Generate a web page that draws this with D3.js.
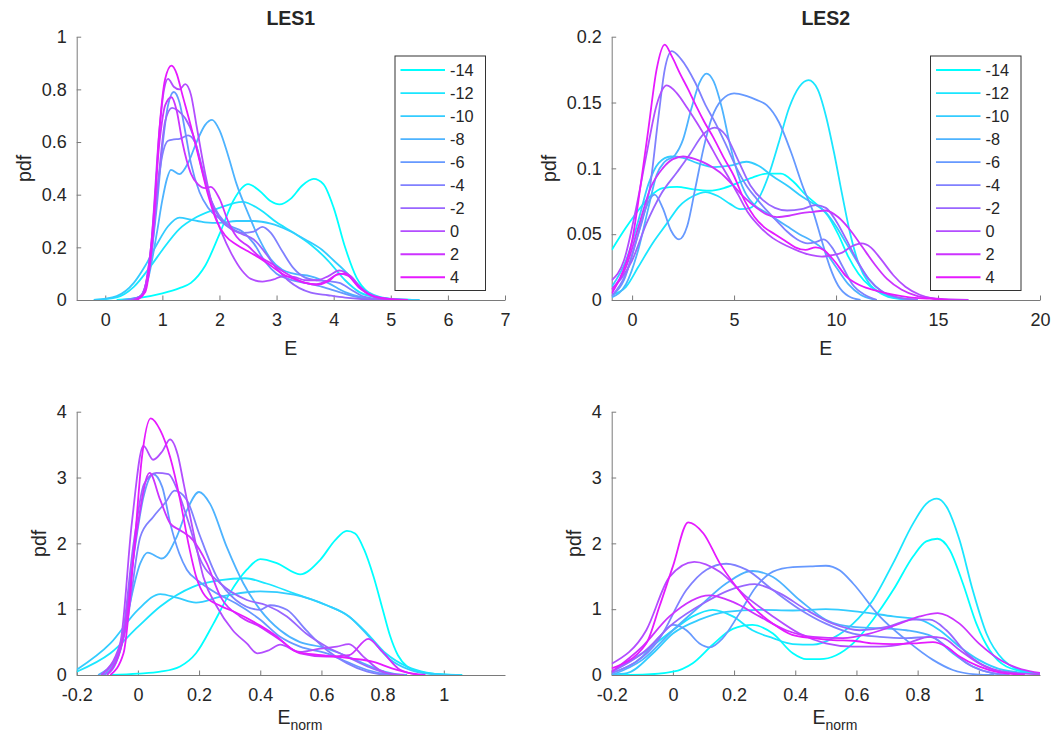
<!DOCTYPE html>
<html>
<head>
<meta charset="utf-8">
<script src="https://cdn.jsdelivr.net/npm/d3@7"></script>
<style>
    body { margin: 0; background: #fff; }
    #chart-area { width: 1053px; height: 747px; }
    text { font-family: "Liberation Sans", Arial, Helvetica, sans-serif; fill: #262626; }
    .axis path, .axis line { stroke: #7a7a7a; stroke-width: 1; }
    .axis text { font-size: 18px; fill: #262626; }
</style>
</head>
<body>
<div id="chart-area"></div>
<script>
/* * * * * * * * * * * * * *
*     LES pdf panels       *
* * * * * * * * * * * * * */

// legend entries, one curve per level in every panel
const levels = [-14, -12, -10, -8, -6, -4, -2, 0, 2, 4];

// LES1, pdf of E  ([E, pdf] points, same order as levels)
const les1E = [
    [[0.2,0],[0.6,0.008],[1.0,0.025],[1.3,0.045],[1.5,0.065],[1.75,0.13],[2.0,0.25],[2.25,0.38],[2.5,0.44],[2.7,0.415],[2.9,0.375],[3.05,0.363],[3.25,0.385],[3.45,0.435],[3.65,0.46],[3.82,0.44],[4.0,0.35],[4.2,0.2],[4.4,0.085],[4.6,0.03],[4.8,0.01],[5.1,0.002],[5.5,0]],
    [[-0.2,0],[0.2,0.01],[0.5,0.05],[0.8,0.13],[1.0,0.19],[1.3,0.27],[1.6,0.315],[2.0,0.35],[2.4,0.373],[2.7,0.345],[3.0,0.295],[3.3,0.255],[3.6,0.21],[3.9,0.15],[4.2,0.075],[4.45,0.03],[4.75,0.01],[5.1,0.002],[5.5,0]],
    [[-0.2,0],[0.2,0.015],[0.5,0.065],[0.7,0.13],[0.9,0.21],[1.1,0.28],[1.3,0.313],[1.5,0.305],[1.75,0.295],[2.0,0.293],[2.3,0.3],[2.6,0.3],[2.9,0.29],[3.2,0.265],[3.5,0.23],[3.8,0.19],[4.0,0.15],[4.2,0.11],[4.4,0.065],[4.6,0.03],[4.8,0.012],[5.1,0.003],[5.5,0]],
    [[0.3,0],[0.6,0.012],[0.75,0.08],[0.9,0.25],[1.0,0.38],[1.08,0.46],[1.15,0.494],[1.3,0.478],[1.45,0.52],[1.6,0.6],[1.75,0.665],[1.87,0.684],[2.0,0.645],[2.15,0.55],[2.3,0.44],[2.5,0.33],[2.7,0.23],[2.9,0.155],[3.1,0.115],[3.3,0.1],[3.6,0.09],[3.9,0.065],[4.2,0.03],[4.5,0.01],[4.8,0.002],[5.0,0]],
    [[0.35,0],[0.6,0.012],[0.75,0.09],[0.9,0.35],[1.0,0.58],[1.1,0.74],[1.2,0.79],[1.3,0.75],[1.4,0.64],[1.5,0.52],[1.65,0.41],[1.8,0.35],[2.0,0.31],[2.2,0.28],[2.4,0.26],[2.6,0.215],[2.8,0.145],[3.0,0.1],[3.2,0.08],[3.5,0.065],[3.8,0.05],[4.1,0.03],[4.4,0.012],[4.7,0.003],[5.0,0]],
    [[0.4,0],[0.6,0.012],[0.75,0.1],[0.9,0.4],[1.0,0.55],[1.1,0.605],[1.2,0.61],[1.3,0.612],[1.45,0.625],[1.57,0.6],[1.7,0.49],[1.85,0.38],[2.0,0.32],[2.2,0.275],[2.4,0.255],[2.6,0.26],[2.75,0.278],[2.9,0.255],[3.1,0.185],[3.3,0.12],[3.5,0.085],[3.7,0.075],[3.9,0.072],[4.1,0.065],[4.3,0.04],[4.5,0.015],[4.8,0.003],[5.0,0]],
    [[0.45,0],[0.65,0.02],[0.8,0.16],[0.95,0.5],[1.05,0.68],[1.17,0.73],[1.27,0.72],[1.4,0.69],[1.55,0.62],[1.7,0.5],[1.85,0.38],[2.0,0.31],[2.2,0.27],[2.4,0.25],[2.6,0.23],[2.8,0.18],[3.0,0.12],[3.2,0.075],[3.4,0.045],[3.6,0.028],[3.9,0.018],[4.2,0.009],[4.6,0.002],[5.0,0]],
    [[0.5,0],[0.65,0.02],[0.8,0.2],[0.95,0.65],[1.03,0.8],[1.1,0.84],[1.2,0.81],[1.3,0.8],[1.4,0.82],[1.5,0.78],[1.6,0.66],[1.75,0.48],[1.9,0.34],[2.05,0.25],[2.2,0.18],[2.4,0.11],[2.55,0.08],[2.75,0.07],[2.95,0.078],[3.1,0.09],[3.3,0.088],[3.5,0.075],[3.7,0.075],[3.9,0.09],[4.1,0.112],[4.3,0.09],[4.5,0.04],[4.7,0.012],[5.0,0]],
    [[0.5,0],[0.65,0.02],[0.8,0.2],[0.95,0.6],[1.05,0.74],[1.16,0.77],[1.25,0.72],[1.35,0.6],[1.5,0.48],[1.62,0.44],[1.75,0.425],[1.85,0.43],[2.0,0.385],[2.15,0.3],[2.3,0.24],[2.5,0.205],[2.7,0.165],[2.9,0.14],[3.1,0.11],[3.3,0.085],[3.5,0.065],[3.7,0.06],[3.9,0.075],[4.1,0.1],[4.25,0.092],[4.45,0.045],[4.7,0.014],[5.0,0.003],[5.3,0]],
    [[0.55,0],[0.7,0.03],[0.85,0.3],[0.95,0.65],[1.05,0.84],[1.16,0.89],[1.25,0.86],[1.35,0.78],[1.5,0.66],[1.65,0.53],[1.8,0.4],[1.95,0.3],[2.1,0.245],[2.3,0.21],[2.5,0.185],[2.7,0.16],[2.9,0.13],[3.1,0.1],[3.3,0.08],[3.5,0.065],[3.7,0.058],[3.9,0.07],[4.05,0.095],[4.2,0.1],[4.4,0.06],[4.6,0.025],[4.9,0.006],[5.3,0]]
];

// LES2, pdf of E
const les2E = [
    [[-1,0.038],[-0.3,0.055],[0.3,0.068],[0.9,0.079],[1.5,0.085],[2.2,0.086],[3.0,0.084],[3.8,0.083],[4.5,0.085],[5.2,0.089],[5.9,0.093],[6.6,0.096],[7.3,0.096],[7.9,0.09],[8.5,0.08],[9.1,0.072],[9.6,0.064],[10.1,0.05],[10.6,0.033],[11.1,0.02],[11.7,0.01],[12.4,0.004],[13.2,0.001],[14,0]],
    [[-1,0.004],[-0.3,0.01],[0.3,0.025],[1.0,0.043],[1.7,0.058],[2.3,0.071],[3.0,0.079],[3.6,0.082],[4.2,0.079],[4.8,0.073],[5.3,0.069],[5.8,0.07],[6.2,0.077],[6.7,0.095],[7.2,0.12],[7.7,0.146],[8.2,0.162],[8.65,0.167],[9.1,0.16],[9.5,0.14],[9.9,0.112],[10.3,0.08],[10.7,0.05],[11.1,0.028],[11.6,0.013],[12.2,0.005],[13,0.001],[14,0]],
    [[-1,0.01],[-0.3,0.03],[0.3,0.06],[0.8,0.088],[1.3,0.104],[1.9,0.109],[2.5,0.108],[3.2,0.104],[4.0,0.101],[4.8,0.102],[5.6,0.105],[6.2,0.102],[6.9,0.094],[7.6,0.087],[8.2,0.08],[8.8,0.074],[9.4,0.068],[10.0,0.056],[10.5,0.043],[11.0,0.03],[11.6,0.016],[12.2,0.007],[13,0.002],[14,0]],
    [[-1,0.002],[-0.3,0.012],[0.3,0.038],[0.8,0.07],[1.2,0.095],[1.6,0.105],[2.1,0.11],[2.5,0.122],[2.9,0.145],[3.3,0.165],[3.65,0.172],[4.0,0.166],[4.4,0.146],[4.8,0.118],[5.2,0.095],[5.6,0.08],[6.0,0.072],[6.5,0.067],[7.0,0.062],[7.6,0.056],[8.2,0.05],[8.8,0.045],[9.4,0.038],[10,0.025],[10.6,0.012],[11.2,0.004],[12,0]],
    [[-1,0.003],[-0.4,0.015],[0.2,0.045],[0.7,0.071],[1.1,0.08],[1.5,0.07],[1.9,0.053],[2.3,0.046],[2.7,0.056],[3.1,0.085],[3.5,0.115],[3.9,0.138],[4.4,0.152],[5.0,0.157],[5.6,0.155],[6.1,0.152],[6.6,0.148],[7.2,0.135],[7.8,0.112],[8.4,0.085],[8.9,0.066],[9.3,0.045],[9.7,0.025],[10.1,0.011],[10.6,0.003],[11.2,0]],
    [[-1,0.003],[-0.3,0.02],[0.3,0.05],[0.87,0.085],[1.3,0.14],[1.6,0.175],[1.95,0.189],[2.4,0.183],[3.1,0.165],[3.6,0.148],[4.1,0.134],[4.6,0.118],[5.1,0.101],[5.6,0.087],[6.1,0.077],[6.6,0.068],[7.1,0.06],[7.6,0.052],[8.1,0.046],[8.6,0.043],[9.0,0.044],[9.4,0.046],[9.8,0.04],[10.3,0.026],[10.8,0.012],[11.4,0.004],[12,0]],
    [[-1,0.008],[0,0.03],[0.7,0.058],[1.4,0.08],[2.2,0.097],[2.8,0.11],[3.5,0.126],[4.05,0.131],[4.6,0.125],[5.2,0.106],[5.8,0.087],[6.4,0.076],[7.0,0.07],[7.6,0.068],[8.3,0.069],[9.0,0.072],[9.5,0.07],[10.0,0.06],[10.5,0.046],[11.0,0.031],[11.6,0.016],[12.3,0.006],[13,0.002],[14,0]],
    [[-1,0.015],[-0.4,0.03],[0.2,0.07],[0.7,0.11],[1.2,0.148],[1.7,0.163],[2.2,0.157],[2.7,0.146],[3.2,0.134],[3.7,0.121],[4.2,0.107],[4.7,0.094],[5.2,0.08],[5.7,0.066],[6.3,0.055],[6.9,0.047],[7.6,0.041],[8.2,0.037],[8.8,0.034],[9.3,0.033],[9.8,0.034],[10.3,0.036],[10.8,0.041],[11.25,0.043],[11.7,0.04],[12.2,0.031],[12.8,0.019],[13.4,0.01],[14.1,0.004],[14.8,0.001],[15.5,0]],
    [[-1,0.008],[-0.3,0.025],[0.3,0.055],[0.9,0.085],[1.5,0.1],[2.0,0.107],[2.5,0.109],[3.1,0.107],[3.7,0.103],[4.3,0.097],[4.9,0.088],[5.5,0.078],[6.1,0.07],[6.6,0.065],[7.1,0.063],[7.7,0.064],[8.3,0.066],[8.9,0.067],[9.5,0.068],[10.1,0.063],[10.7,0.053],[11.3,0.04],[11.9,0.027],[12.5,0.016],[13.2,0.008],[14,0.003],[15,0.001],[16.5,0]],
    [[-1,0.005],[-0.5,0.02],[0,0.045],[0.38,0.083],[0.8,0.13],[1.2,0.175],[1.6,0.194],[1.95,0.185],[2.35,0.172],[2.75,0.16],[3.15,0.147],[3.55,0.135],[4.0,0.123],[4.5,0.108],[5.0,0.094],[5.5,0.076],[6.0,0.063],[6.5,0.055],[7.0,0.05],[7.5,0.045],[8.0,0.04],[8.5,0.038],[9.0,0.04],[9.4,0.038],[9.9,0.03],[10.5,0.018],[11.2,0.011],[12,0.007],[12.8,0.004],[13.6,0.002],[14.6,0.001],[15.5,0]]
];

// LES1, pdf of E_norm
const les1N = [
    [[-0.09,0],[0.0,0.02],[0.073,0.05],[0.138,0.13],[0.19,0.33],[0.247,0.78],[0.3,1.24],[0.356,1.6],[0.4,1.76],[0.454,1.7],[0.53,1.53],[0.596,1.75],[0.645,2.05],[0.683,2.19],[0.71,2.15],[0.74,1.9],[0.77,1.5],[0.8,1.0],[0.824,0.6],[0.85,0.3],[0.88,0.13],[0.93,0.04],[1.0,0.01],[1.06,0]],
    [[-0.2,0.05],[-0.09,0.33],[0,0.73],[0.073,1.04],[0.18,1.34],[0.27,1.44],[0.35,1.47],[0.42,1.39],[0.51,1.24],[0.617,1.06],[0.69,0.89],[0.75,0.63],[0.81,0.33],[0.88,0.127],[0.944,0.035],[1.0,0.005],[1.06,0]],
    [[-0.2,0.08],[-0.09,0.48],[0,0.99],[0.073,1.23],[0.13,1.17],[0.19,1.1],[0.27,1.19],[0.4,1.27],[0.51,1.22],[0.617,1.06],[0.69,0.89],[0.76,0.56],[0.82,0.25],[0.89,0.076],[0.965,0.012],[1.05,0]],
    [[-0.13,0],[-0.07,0.28],[-0.036,0.89],[0.008,1.7],[0.032,1.86],[0.078,1.77],[0.127,2.1],[0.16,2.5],[0.2,2.78],[0.236,2.6],[0.29,1.95],[0.345,1.39],[0.4,0.99],[0.465,0.68],[0.53,0.5],[0.596,0.43],[0.66,0.33],[0.726,0.2],[0.79,0.076],[0.835,0.02],[0.88,0]],
    [[-0.11,0],[-0.058,0.38],[-0.014,1.8],[0.018,2.7],[0.05,3.05],[0.08,2.85],[0.106,2.3],[0.135,1.85],[0.16,1.6],[0.2,1.42],[0.258,1.24],[0.32,1.09],[0.4,0.84],[0.465,0.58],[0.53,0.43],[0.617,0.33],[0.683,0.2],[0.75,0.076],[0.81,0.015],[0.86,0]],
    [[-0.12,0],[-0.09,0.05],[-0.036,0.78],[0.008,2.1],[0.05,2.4],[0.09,2.62],[0.12,2.8],[0.16,2.66],[0.2,2.15],[0.258,1.49],[0.32,1.14],[0.4,0.99],[0.432,1.06],[0.487,0.99],[0.55,0.68],[0.617,0.38],[0.683,0.18],[0.75,0.05],[0.81,0]],
    [[-0.12,0],[-0.058,0.4],[-0.014,2.0],[0.02,2.9],[0.06,3.07],[0.1,3.05],[0.13,2.8],[0.16,2.4],[0.2,1.8],[0.27,1.39],[0.356,1.14],[0.42,1.06],[0.487,0.89],[0.55,0.63],[0.617,0.43],[0.683,0.28],[0.75,0.13],[0.81,0.03],[0.86,0]],
    [[-0.12,0],[-0.058,0.48],[-0.02,2.3],[0.018,3.48],[0.05,3.27],[0.08,3.4],[0.105,3.58],[0.13,3.35],[0.15,2.9],[0.18,2.2],[0.214,1.49],[0.258,1.04],[0.31,0.68],[0.356,0.48],[0.39,0.33],[0.43,0.38],[0.465,0.46],[0.53,0.35],[0.596,0.4],[0.65,0.43],[0.69,0.47],[0.737,0.28],[0.79,0.076],[0.835,0.01],[0.87,0]],
    [[-0.1,0],[-0.047,0.58],[-0.003,2.2],[0.038,3.07],[0.073,2.66],[0.106,2.3],[0.138,2.2],[0.18,2.05],[0.225,1.7],[0.27,1.19],[0.334,0.89],[0.4,0.73],[0.465,0.53],[0.53,0.33],[0.617,0.28],[0.69,0.3],[0.753,0.55],[0.8,0.35],[0.857,0.08],[0.92,0]],
    [[-0.09,0],[-0.047,0.33],[-0.014,1.8],[0.013,3.3],[0.042,3.9],[0.073,3.72],[0.106,3.3],[0.138,2.66],[0.165,2.0],[0.19,1.5],[0.22,1.2],[0.27,1.05],[0.32,0.95],[0.4,0.75],[0.45,0.6],[0.52,0.35],[0.6,0.3],[0.7,0.25],[0.77,0.2],[0.83,0.1],[0.9,0.02],[0.94,0]]
];

// LES2, pdf of E_norm
const les2N = [
    [[-0.2,0],[-0.1,0.005],[0,0.05],[0.065,0.18],[0.13,0.46],[0.196,0.7],[0.26,0.76],[0.327,0.63],[0.392,0.33],[0.436,0.24],[0.48,0.24],[0.534,0.3],[0.589,0.48],[0.654,0.84],[0.72,1.29],[0.785,1.8],[0.828,2.03],[0.865,2.07],[0.905,1.9],[0.948,1.39],[0.992,0.78],[1.035,0.38],[1.09,0.13],[1.18,0.025],[1.2,0.015]],
    [[-0.2,0.05],[-0.1,0.33],[0,0.68],[0.065,0.89],[0.13,0.99],[0.196,0.89],[0.26,0.68],[0.327,0.56],[0.392,0.47],[0.458,0.46],[0.523,0.56],[0.589,0.78],[0.654,1.14],[0.72,1.7],[0.785,2.3],[0.828,2.6],[0.863,2.68],[0.894,2.56],[0.937,2.05],[0.98,1.29],[1.025,0.63],[1.08,0.23],[1.155,0.05],[1.2,0.02]],
    [[-0.2,0.01],[-0.15,0.03],[-0.065,0.33],[0,0.63],[0.087,0.84],[0.174,0.96],[0.283,0.99],[0.392,0.98],[0.5,1.0],[0.61,0.96],[0.72,0.89],[0.807,0.84],[0.872,0.68],[0.937,0.43],[1.0,0.23],[1.08,0.076],[1.2,0.015]],
    [[-0.2,0],[-0.1,0.23],[0,0.68],[0.087,1.04],[0.174,1.39],[0.26,1.58],[0.327,1.49],[0.414,1.14],[0.5,0.84],[0.589,0.73],[0.676,0.71],[0.763,0.68],[0.85,0.58],[0.915,0.33],[0.98,0.13],[1.046,0.025],[1.1,0]],
    [[-0.2,0.03],[-0.1,0.28],[-0.044,0.58],[0,0.76],[0.044,0.68],[0.087,0.48],[0.12,0.42],[0.163,0.56],[0.218,0.94],[0.272,1.34],[0.327,1.57],[0.392,1.64],[0.45,1.65],[0.5,1.66],[0.545,1.59],[0.589,1.39],[0.676,0.89],[0.763,0.53],[0.85,0.23],[0.915,0.076],[0.99,0.01],[1.05,0]],
    [[-0.2,0.03],[-0.044,0.55],[0.044,1.29],[0.11,1.6],[0.174,1.69],[0.24,1.6],[0.327,1.29],[0.414,1.0],[0.5,0.78],[0.589,0.63],[0.676,0.58],[0.763,0.56],[0.84,0.58],[0.894,0.43],[0.96,0.18],[1.025,0.05],[1.1,0]],
    [[-0.2,0.05],[-0.1,0.33],[0,0.78],[0.1,1.09],[0.185,1.29],[0.267,1.38],[0.35,1.24],[0.436,0.99],[0.523,0.78],[0.61,0.68],[0.698,0.73],[0.785,0.84],[0.84,0.84],[0.894,0.68],[0.96,0.33],[1.05,0.076],[1.15,0.005]],
    [[-0.2,0.17],[-0.087,0.68],[-0.011,1.49],[0.07,1.72],[0.153,1.57],[0.24,1.19],[0.327,0.89],[0.414,0.63],[0.5,0.48],[0.589,0.43],[0.676,0.43],[0.763,0.48],[0.84,0.58],[0.883,0.56],[0.937,0.38],[1.0,0.18],[1.08,0.05],[1.2,0.01]],
    [[-0.2,0.05],[-0.1,0.43],[-0.011,0.89],[0.12,1.21],[0.196,1.11],[0.283,0.89],[0.37,0.68],[0.458,0.58],[0.556,0.56],[0.643,0.63],[0.73,0.76],[0.807,0.89],[0.866,0.94],[0.937,0.78],[1.0,0.48],[1.08,0.2],[1.2,0.03]],
    [[-0.2,0.1],[-0.087,0.48],[-0.044,1.04],[0,1.65],[0.05,2.32],[0.1,2.15],[0.153,1.7],[0.207,1.34],[0.26,1.04],[0.327,0.78],[0.39,0.61],[0.458,0.56],[0.523,0.53],[0.589,0.52],[0.654,0.48],[0.72,0.47],[0.785,0.48],[0.85,0.5],[0.894,0.43],[0.937,0.28],[1.0,0.13],[1.07,0.035],[1.15,0.005]]
];

// tick values
const ticksE1 = [0, 1, 2, 3, 4, 5, 6, 7];
const ticksE2 = [0, 5, 10, 15, 20];
const ticksNorm = [-0.2, 0, 0.2, 0.4, 0.6, 0.8, 1];
const ticksPdf1 = [0, 0.2, 0.4, 0.6, 0.8, 1];
const ticksPdf2 = [0, 0.05, 0.1, 0.15, 0.2];
const ticksPdfN = [0, 1, 2, 3, 4];

// matlab "cool" map, 11 steps, first 10 used
const levelColor = i => d3.interpolateRgb('#00ffff', '#ff00ff')(i / 10);
const fmt = d => String(Math.round(d * 1000) / 1000);

class PdfPanel {

    constructor(svg, cfg) {
        this.svg = svg;
        Object.assign(this, cfg);
        this.initVis();
    }

    initVis() {
        let vis = this;

        vis.width = vis.right - vis.left;
        vis.height = vis.bottom - vis.top;

        vis.g = vis.svg.append('g')
            .attr('transform', `translate(${vis.left},${vis.top})`);

        vis.x = d3.scaleLinear().domain(vis.xDomain).range([0, vis.width]);
        vis.y = d3.scaleLinear().domain(vis.yDomain).range([vis.height, 0]);

        vis.svg.append('clipPath').attr('id', 'clip-' + vis.id)
            .append('rect')
            .attr('width', vis.width)
            .attr('height', vis.height + 2)
            .attr('y', -2);

        vis.updateVis();
    }

    updateVis() {
        let vis = this;

        // axes, ticks pointing inward
        vis.xAxisG = vis.g.append('g')
            .attr('class', 'axis x-axis')
            .attr('transform', `translate(0,${vis.height})`)
            .call(d3.axisBottom(vis.x).tickValues(vis.xTicks).tickFormat(fmt)
                .tickSizeInner(-4.5).tickSizeOuter(0).tickPadding(13));

        vis.yAxisG = vis.g.append('g')
            .attr('class', 'axis y-axis')
            .call(d3.axisLeft(vis.y).tickValues(vis.yTicks).tickFormat(fmt)
                .tickSizeInner(-4.5).tickSizeOuter(0).tickPadding(10));

        vis.g.selectAll('.axis .domain').attr('stroke', '#7a7a7a');

        // curves
        vis.line = d3.line()
            .x(d => vis.x(d[0]))
            .y(d => vis.y(d[1]))
            .curve(d3.curveMonotoneX);

        vis.g.append('g')
            .attr('clip-path', `url(#clip-${vis.id})`)
            .selectAll('path')
            .data(vis.data)
            .enter().append('path')
            .attr('d', d => vis.line(d))
            .attr('fill', 'none')
            .attr('stroke', (d, i) => levelColor(i))
            .attr('stroke-width', 1.8)
            .attr('stroke-linejoin', 'round');

        // y label placed left of the widest tick label
        let maxW = d3.max(vis.yAxisG.selectAll('.tick text').nodes(), n => n.getBBox().width);
        let lx = -10 - maxW - 11;
        vis.g.append('text')
            .attr('transform', `translate(${lx},${vis.height / 2}) rotate(-90)`)
            .attr('text-anchor', 'middle')
            .attr('font-size', '19.5px')
            .text('pdf');

        // x label
        let xl = vis.g.append('text')
            .attr('x', vis.width / 2 + (vis.sub ? 9 : 0))
            .attr('y', vis.height + vis.xLabelDy)
            .attr('text-anchor', 'middle')
            .attr('font-size', '19.5px')
            .text('E');
        if (vis.sub) {
            xl.append('tspan')
                .attr('dy', 6)
                .attr('font-size', '14px')
                .text(vis.sub);
        }

        if (vis.title) {
            vis.g.append('text')
                .attr('x', vis.width / 2)
                .attr('y', -11.5)
                .attr('text-anchor', 'middle')
                .attr('font-size', '19.5px')
                .attr('font-weight', 'bold')
                .text(vis.title);
        }

        if (vis.legend) vis.drawLegend();
    }

    drawLegend() {
        let vis = this;
        let lg = vis.svg.append('g')
            .attr('transform', `translate(${vis.legend[0]},${vis.legend[1]})`);

        lg.append('rect')
            .attr('width', 90.5)
            .attr('height', 234.5)
            .attr('fill', '#fff')
            .attr('stroke', '#333')
            .attr('stroke-width', 1);

        let rows = lg.selectAll('.legend-row')
            .data(levels)
            .enter().append('g')
            .attr('class', 'legend-row')
            .attr('transform', (d, i) => `translate(0,${14 + i * 23.03})`);

        rows.append('line')
            .attr('x1', 5.5).attr('x2', 50)
            .attr('stroke', (d, i) => levelColor(i))
            .attr('stroke-width', 1.8);

        rows.append('text')
            .attr('x', 55)
            .attr('y', 6)
            .attr('font-size', '16.3px')
            .text(d => d);
    }
}

let svg = d3.select('#chart-area').append('svg')
    .attr('width', 1053)
    .attr('height', 747);

new PdfPanel(svg, {id: 'p1', data: les1E, title: 'LES1', left: 76.7, right: 505, top: 36.7, bottom: 300,
    xDomain: [-0.5, 7], yDomain: [0, 1], xTicks: ticksE1, yTicks: ticksPdf1, xLabelDy: 55, legend: [395, 56]});
new PdfPanel(svg, {id: 'p2', data: les2E, title: 'LES2', left: 611.7, right: 1040, top: 36.7, bottom: 300,
    xDomain: [-1, 20], yDomain: [0, 0.2], xTicks: ticksE2, yTicks: ticksPdf2, xLabelDy: 55, legend: [930.5, 56]});
new PdfPanel(svg, {id: 'p3', data: les1N, left: 76.7, right: 505, top: 411.7, bottom: 675,
    xDomain: [-0.2, 1.2], yDomain: [0, 4], xTicks: ticksNorm, yTicks: ticksPdfN, xLabelDy: 49, sub: 'norm'});
new PdfPanel(svg, {id: 'p4', data: les2N, left: 611.7, right: 1040, top: 411.7, bottom: 675,
    xDomain: [-0.2, 1.2], yDomain: [0, 4], xTicks: ticksNorm, yTicks: ticksPdfN, xLabelDy: 49, sub: 'norm'});
</script>
</body>
</html>
